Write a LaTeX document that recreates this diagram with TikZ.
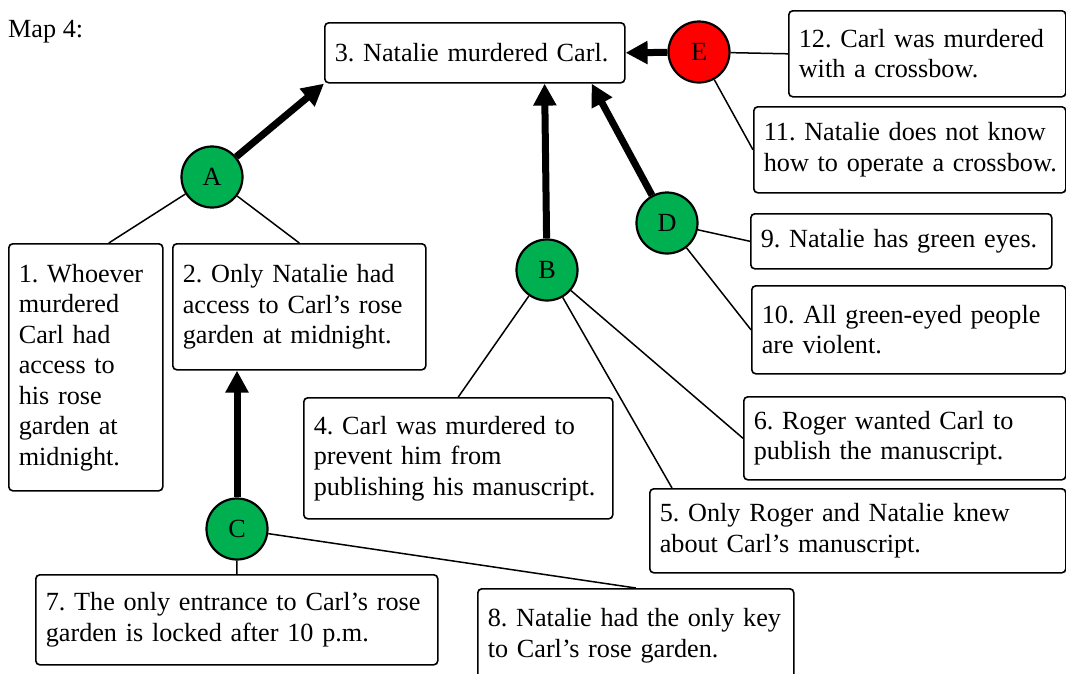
\documentclass[tikz,border=0pt]{standalone}
\usepackage{fontspec}
\setmainfont{Liberation Serif}
\usetikzlibrary{arrows.meta,positioning}

\definecolor{hubgreen}{HTML}{00B050}
\definecolor{hubred}{HTML}{FF0000}
\newcommand{\mapfont}{\fontsize{26.2}{30.5}\selectfont\frenchspacing\hyphenpenalty=10000}

\begin{document}
\begin{tikzpicture}[x=1pt,y=-1pt,
  claim/.style={draw,line width=1.6pt,rounded corners=4pt,fill=white,align=left,
    anchor=north west,inner xsep=10pt,inner ysep=0pt,font=\mapfont},
  hub/.style={circle,draw,line width=2.2pt,fill=hubgreen,minimum size=61pt,
    inner sep=0pt,font=\mapfont},
  link/.style={line width=1.5pt},
  support/.style={line width=7pt,-{Triangle[length=22pt,width=22pt]}}]
\clip (0,0) rectangle (1066,673);
\node [anchor=west,inner sep=0pt,font=\mapfont] (title) at (8,32) {Map 4:};
% claims
\node [claim,text width=280pt,minimum height=60pt] (n3) at (324,22) {3. Natalie murdered Carl.};
\node [claim,text width=257pt,minimum height=86pt] (n12) at (788,10) {12. Carl was murdered\\with a crossbow.};
\node [claim,inner xsep=6pt,text width=300pt,minimum height=86pt] (n11) at (753,106) {\hspace*{4pt}11. Natalie does not know\\\hspace*{4pt}how to operate a crossbow.};
\node [claim,text width=281pt,minimum height=55pt] (n9) at (750,213) {9. Natalie has green eyes.};
\node [claim,text width=294pt,minimum height=88pt] (n10) at (751,285) {10. All green-eyed people\\are violent.};
\node [claim,text width=302pt,minimum height=83pt] (n6) at (743,396) {6. Roger wanted Carl to\\publish the manuscript.};
\node [claim,text width=396pt,minimum height=84pt] (n5) at (649,488) {5. Only Roger and Natalie knew\\about Carl's manuscript.};
\node [claim,text width=289pt,minimum height=121pt] (n4) at (303,397) {4. Carl was murdered to\\prevent him from\\publishing his manuscript.};
\node [claim,text width=134pt,minimum height=247pt] (n1) at (8,243) {1. Whoever\\murdered\\Carl had\\access to\\his rose\\garden at\\midnight.};
\node [claim,text width=233pt,minimum height=126pt] (n2) at (172,243) {2. Only Natalie had\\access to Carl's rose\\garden at midnight.};
\node [claim,text width=382pt,minimum height=90pt] (n7) at (35,574) {7. The only entrance to Carl's rose\\garden is locked after 10 p.m.};
\node [claim,text width=296pt,minimum height=94pt] (n8) at (477,588) {8. Natalie had the only key\\to Carl's rose garden.};
% inference hubs
\node [hub] (A) at (212,177) {A};
\node [hub] (B) at (547,270) {B};
\node [hub] (C) at (237,529) {C};
\node [hub] (D) at (667,223) {D};
\node [hub,fill=hubred] (E) at (699,52) {E};
% premises into hubs
\draw [link] (A) -- ([xshift=23pt]n1.north);
\draw [link] (A) -- (n2.north);
\draw [link] (B) -- (n4.north);
\draw [link] (B) -- ([xshift=23pt]n5.north west);
\draw [link] (B) -- (n6.west);
\draw [link] (C) -- (n7.north);
\draw [link] (C) -- (n8.north);
\draw [link] (D) -- (n9.west);
\draw [link] (D) -- (n10.west);
\draw [link] (E) -- (n12.west);
\draw [link] (E) -- (n11.west);
% hubs to conclusions
\draw [support] (A) -- (n3.south west);
\draw [support] (B) -- ([xshift=-81pt]n3.south east);
\draw [support] (D) -- ([xshift=-34pt]n3.south east);
\draw [support] (E) -- (n3.east);
\draw [support] (C) -- ([xshift=65pt]n2.south west);
\end{tikzpicture}
\end{document}
